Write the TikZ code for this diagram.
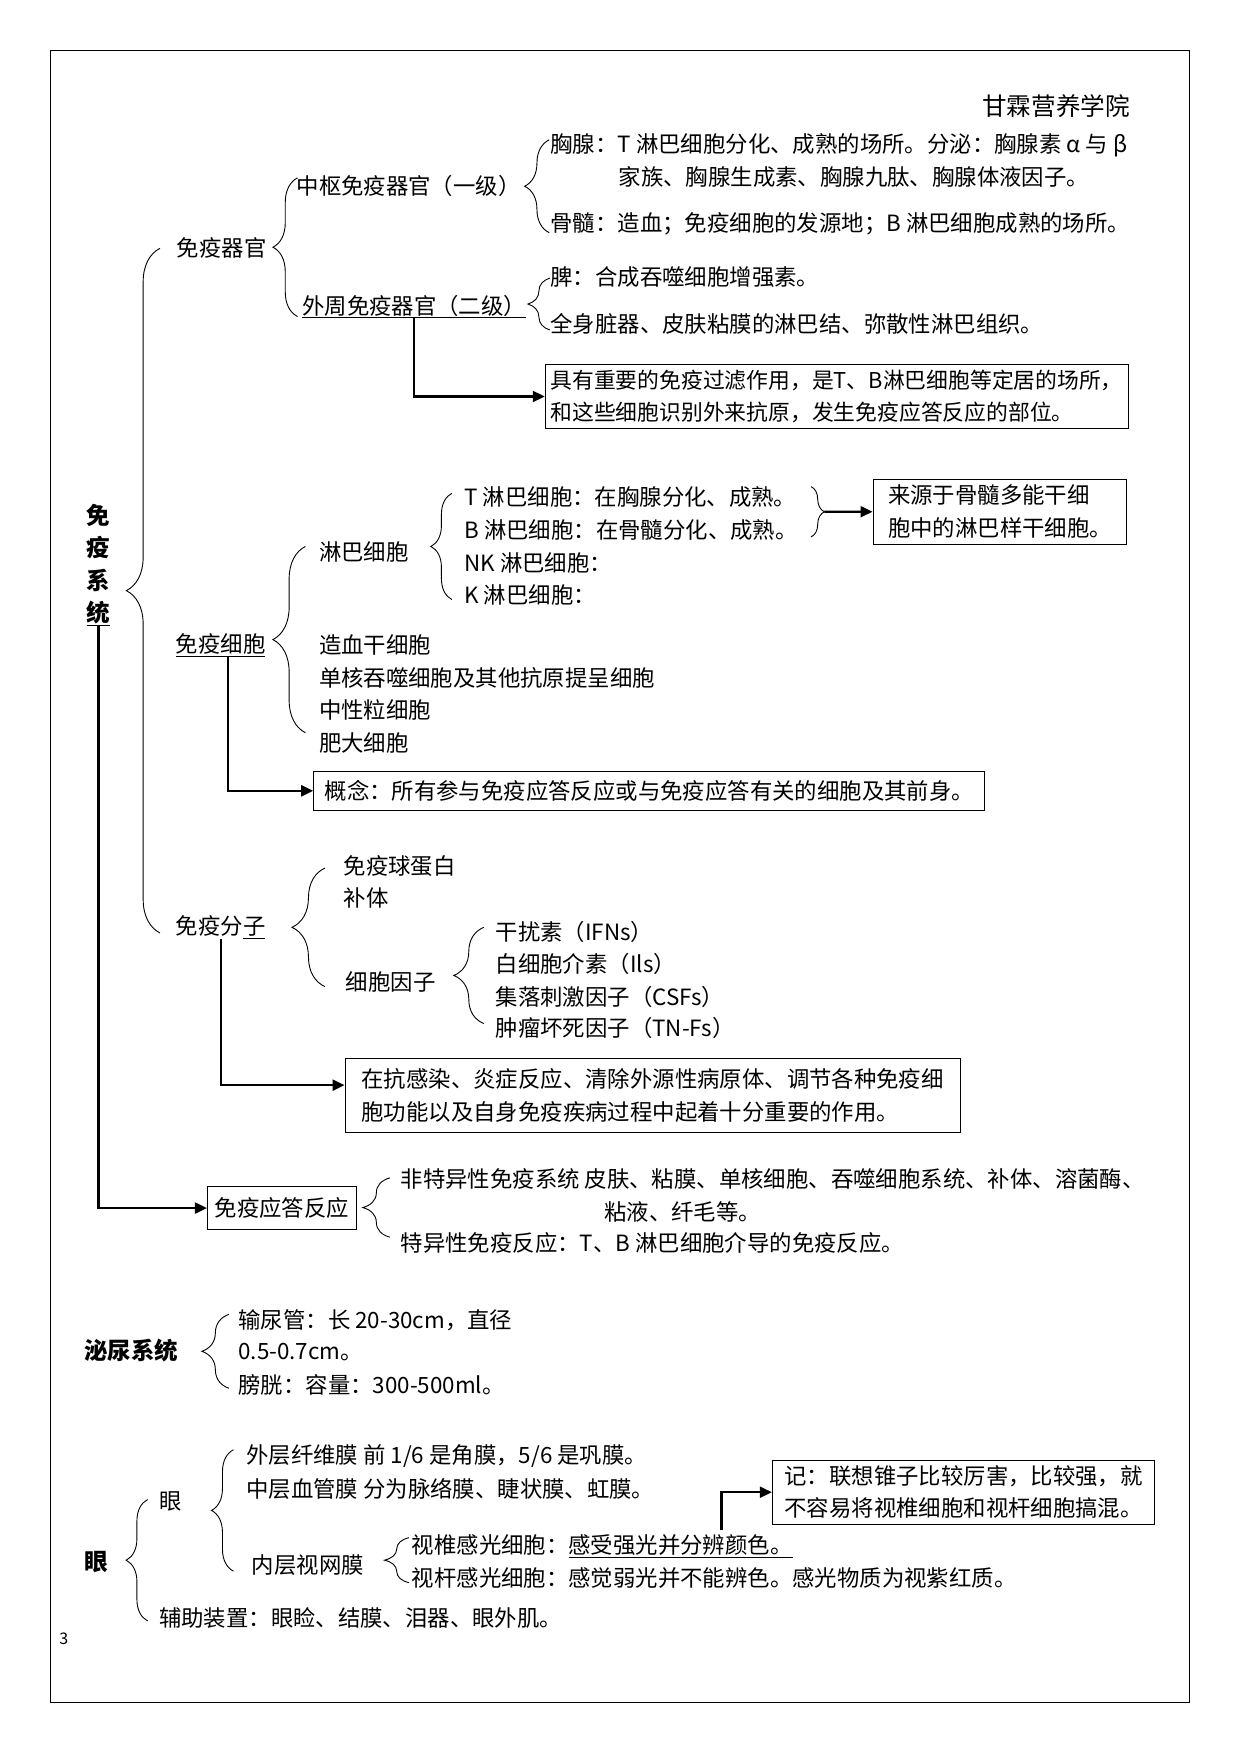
\documentclass[tikz,border=0pt]{standalone}
\usepackage{fontspec}
\setmainfont{Noto Sans CJK SC}
\usetikzlibrary{arrows.meta,decorations.pathreplacing,calc}
\begin{document}
\begin{tikzpicture}[x=1.119pt,y=-1.119pt,
 txt/.style={anchor=west,inner sep=0pt,font=\fontsize{22.4}{32.5}\selectfont},
 bold/.style={txt,font=\fontsize{23.5}{32.5}\selectfont\bfseries},
 bx/.style={draw,line width=1pt,anchor=north west,inner xsep=3.5pt,inner ysep=0pt,align=left,font=\fontsize{22.4}{32.5}\selectfont},
 arr/.style={line width=2.2pt,-{Triangle[length=12pt,width=11pt]}},
 br/.style={line width=0.9pt,decorate,decoration={brace,amplitude=#1}}]
\useasboundingbox (0,0) rectangle (1109,1568);
\draw[line width=1pt] (45,45) rectangle (1063,1522);
\node[txt,font=\fontsize{24.6}{30}\selectfont] (title) at (878,95) {甘霖营养学院};
% immune system
\node[inner sep=0pt,align=center,font=\fontsize{23.5}{32.5}\selectfont\bfseries] (sys) at (88,505) {免\\疫\\系\\\underline{统}};
\draw[br=33.6pt] (143,834) -- (143,222);
\node[txt] (qg) at (158,222) {免疫器官};
\draw[br=24.6pt] (266,283) -- (266,159);
\node[txt] (zs) at (265,166) {中枢免疫器官（一级）};
\draw[br=24.6pt] (491,208) -- (491,125);
\node[txt] (xx1) at (492,130) {胸腺：T 淋巴细胞分化、成熟的场所。分泌：胸腺素 α 与 β};
\node[txt] (xx2) at (553,158) {家族、胸腺生成素、胸腺九肽、胸腺体液因子。};
\node[txt] (gs) at (492,200) {骨髓：造血；免疫细胞的发源地；B 淋巴细胞成熟的场所。};
\node[txt] (wz) at (270,274) {\underline{外周免疫器官（二级）}};
\draw[br=22pt] (491.6,295) -- (491.6,248.6);
\node[txt] (pi) at (492,248) {脾：合成吞噬细胞增强素。};
\node[txt] (qs) at (492,290) {全身脏器、皮肤粘膜的淋巴结、弥散性淋巴组织。};
\node[bx,minimum width=521*1.119pt,minimum height=58*1.119pt,inner xsep=2.5pt,font=\fontsize{21.8}{32.5}\selectfont] (b1) at (487,325) {具有重要的免疫过滤作用，是T、B淋巴细胞等定居的场所，\\和这些细胞识别外来抗原，发生免疫应答反应的部位。};
\draw[arr] (wz.south) |- (b1.west);
% cells
\node[txt] (xb) at (157,577) {\underline{免疫细胞}};
\draw[br=32.5pt] (273,655) -- (273,488.5);
\node[txt] (lb) at (285,493) {淋巴细胞};
\draw[br=21pt] (404,536) -- (404,441);
\node[txt] (t) at (415,444) {T 淋巴细胞：在胸腺分化、成熟。};
\node[txt] (b) at (415,474) {B 淋巴细胞：在骨髓分化、成熟。};
\node[txt] (nk) at (415,503) {NK 淋巴细胞：};
\node[txt] (k) at (415,532) {K 淋巴细胞：};
\draw[br=13.4pt] (725,435) -- (725,480);
\coordinate (tip) at (737,457.5);
\node[bx,minimum width=227*1.119pt,minimum height=58*1.119pt] (b2) at (780,428) {来源于骨髓多能干细\\胞中的淋巴样干细胞。};
\draw[arr] (tip) -- (b2.west);
\node[txt] (zx) at (285,577) {造血干细胞};
\node[txt] (dh) at (285,606) {单核吞噬细胞及其他抗原提呈细胞};
\node[txt] (zx2) at (285,635) {中性粒细胞};
\node[txt] (fd) at (285,664) {肥大细胞};
\node[bx,minimum width=600*1.119pt,minimum height=35*1.119pt] (b3) at (280,689) {概念：所有参与免疫应答反应或与免疫应答有关的细胞及其前身。};
\draw[arr] ([xshift=7pt]xb.south) |- (b3.west);
% molecules
\node[txt] (fz) at (157,829) {免疫分\underline{子}};
\draw[br=33pt] (290.5,882) -- (290.5,776);
\node[txt] (qd) at (307,774) {免疫球蛋白};
\node[txt] (bt) at (307,803) {补体};
\node[txt] (yz) at (309,878) {细胞因子};
\draw[br=30pt] (432.5,915) -- (432.5,829);
\node[txt] (g1) at (443,833) {干扰素（IFNs）};
\node[txt] (g2) at (443,862) {白细胞介素（Ils）};
\node[txt] (g3) at (443,891) {集落刺激因子（CSFs）};
\node[txt] (g4) at (443,919) {肿瘤坏死因子（TN-Fs）};
\node[bx,minimum width=550*1.119pt,minimum height=66*1.119pt] (b4) at (308,946) {在抗感染、炎症反应、清除外源性病原体、调节各种免疫细\\胞功能以及自身免疫疾病过程中起着十分重要的作用。};
\draw[arr] (fz.south) |- ($(b4.north west)!0.36!(b4.south west)$);
% response
\node[bx,minimum width=133*1.119pt,minimum height=39*1.119pt] (b5) at (185,1060) {免疫应答反应};
\draw[arr] (sys.south) |- (b5.west);
\draw[br=27pt] (348.5,1106) -- (348.5,1053);
\node[txt] (r1) at (358,1054) {非特异性免疫系统 皮肤、粘膜、单核细胞、吞噬细胞系统、补体、溶菌酶、};
\node[txt] (r2) at (540,1083) {粘液、纤毛等。};
\node[txt] (r3) at (358,1111) {特异性免疫反应：T、B 淋巴细胞介导的免疫反应。};
% urinary
\node[bold] (mn) at (75,1207) {泌尿系统};
\draw[br=27pt] (204.6,1241) -- (204.6,1175);
\node[txt] (u1) at (213,1180) {输尿管：长 20-30cm，直径};
\node[txt] (u2) at (213,1209) {0.5-0.7cm。};
\node[txt] (u3) at (213,1238) {膀胱：容量：300-500ml。};
% eye
\node[bold] (eye) at (75,1396) {眼};
\draw[br=21.5pt] (132,1449) -- (132,1340.5);
\node[txt] (eye2) at (142,1342) {眼};
\draw[br=22pt] (208.7,1404.5) -- (208.7,1296);
\node[txt] (e1) at (220,1302) {外层纤维膜 前 1/6 是角膜，5/6 是巩膜。};
\node[txt] (e2) at (220,1331) {中层血管膜 分为脉络膜、睫状膜、虹膜。};
\node[txt] (e3) at (225,1399) {内层视网膜};
\draw[br=24.5pt] (365.6,1414.8) -- (365.6,1374.6);
\node[txt] (e4) at (368,1382) {视椎感光细胞：\underline{感受强光并分辨颜色。}};
\node[txt] (e5) at (368,1411) {视杆感光细胞：感觉弱光并不能辨色。感光物质为视紫红质。};
\node[txt] (e6) at (142,1446) {辅助装置：眼睑、结膜、泪器、眼外肌。};
\node[bx,minimum width=342*1.119pt,minimum height=57*1.119pt] (b6) at (690,1305) {记：联想锥子比较厉害，比较强，就\\不容易将视椎细胞和视杆细胞搞混。};
\coordinate (c6) at (645,1368);
\draw[arr] (c6) |- (b6.west);
\node[txt,font=\fontsize{16}{18}\selectfont] (pg) at (53,1465) {3};
\end{tikzpicture}
\end{document}
